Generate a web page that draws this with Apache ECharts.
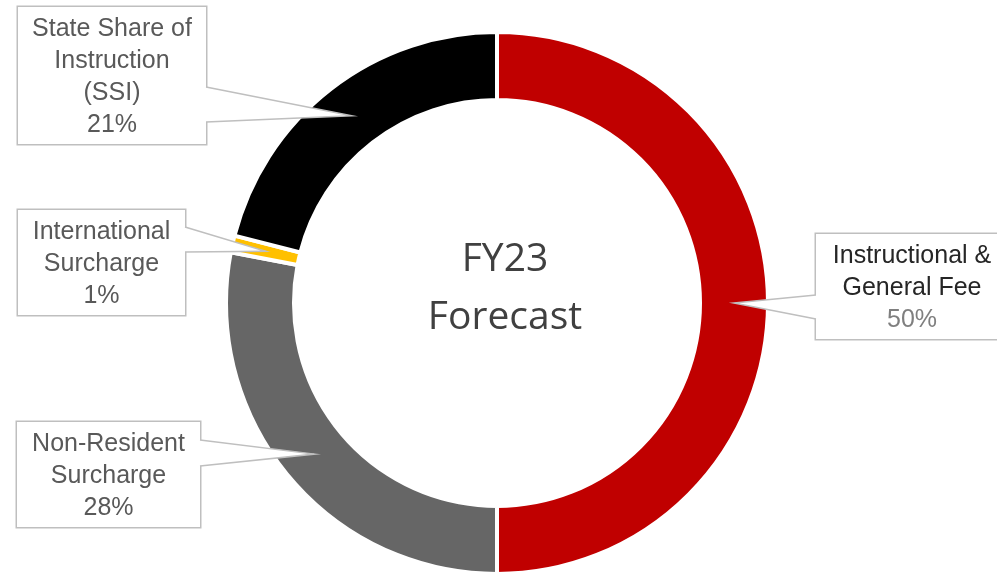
<!DOCTYPE html>
<html>
<head>
<meta charset="utf-8">
<script src="https://cdn.jsdelivr.net/npm/echarts@6/dist/echarts.min.js"></script>
<style>
  html, body { margin: 0; padding: 0; background: #fff; }
  #chart { width: 997px; height: 573px; }
</style>
</head>
<body>
<div id="chart"></div>
<script>
// ---- data ----
const categories = ['Instructional &\nGeneral Fee', 'Non-Resident\nSurcharge', 'International\nSurcharge', 'State Share of\nInstruction\n(SSI)'];
const values = [50, 28, 1, 21];
const colors = ['#C00000', '#666666', '#FFC000', '#000000'];
const centerLines = ['FY23', 'Forecast'];

// ---- layout (callout boxes) ----
const boxLeft = [816, 17, 18, 18];
const boxTop = [234, 422, 210, 7];
const boxWidth = [192, 183, 167, 188];
const tailSide = ['left', 'right', 'right', 'right'];
const tailBase = [[295, 319], [440, 466], [227, 252], [87, 122]];
const nameColor = ['#262626', '#595959', '#595959', '#595959'];
const pctColor = ['#7F7F7F', '#595959', '#595959', '#595959'];

const FONT = 'Liberation Sans';
const FS = 25;
const LH = 32;
const BORDER = '#BFBFBF';

const chart = echarts.init(document.getElementById('chart'), null, { renderer: 'canvas' });

const data = categories.map((name, i) => ({
  name: name,
  value: values[i],
  itemStyle: { color: colors[i] },
  label: {
    width: boxWidth[i],
    rich: {
      n: { fontFamily: FONT, fontSize: FS, lineHeight: LH, color: nameColor[i], align: 'center' },
      p: { fontFamily: FONT, fontSize: FS, lineHeight: LH, color: pctColor[i], align: 'center' }
    }
  }
}));

chart.setOption({
  animation: false,
  backgroundColor: '#ffffff',
  series: [{
    type: 'pie',
    center: [497, 303],
    radius: [203, 271],
    startAngle: 90,
    clockwise: true,
    avoidLabelOverlap: false,
    percentPrecision: 0,
    itemStyle: { borderColor: '#ffffff', borderWidth: 4 },
    emphasis: { disabled: true },
    label: {
      show: true,
      position: 'outside',
      formatter: p => '{n|' + p.name + '}\n{p|' + p.percent + '%}',
      backgroundColor: '#ffffff',
      borderColor: BORDER,
      borderWidth: 1.5,
      padding: [6, 0, 3, 0],
      lineHeight: LH,
      fontFamily: FONT,
      fontSize: FS,
      align: 'center'
    },
    labelLine: { show: false },
    labelLayout: params => {
      const i = params.dataIndex;
      return {
        x: boxLeft[i] + boxWidth[i] / 2,
        y: boxTop[i],
        align: 'center',
        verticalAlign: 'top'
      };
    },
    data: data
  }]
});

// callout tails built from the pie's own layout
const seriesData = chart.getModel().getSeriesByIndex(0).getData();
const graphics = [];
categories.forEach((c, i) => {
  const L = seriesData.getItemLayout(i);
  const mid = (L.startAngle + L.endAngle) / 2;
  const rm = (L.r0 + L.r) / 2;
  const tip = [L.cx + rm * Math.cos(mid), L.cy + rm * Math.sin(mid)];
  const ex = tailSide[i] === 'right' ? boxLeft[i] + boxWidth[i] : boxLeft[i];
  const inward = tailSide[i] === 'right' ? -2 : 2;
  const y1 = tailBase[i][0], y2 = tailBase[i][1];
  graphics.push({
    type: 'polygon', z: 100,
    shape: { points: [[ex + inward, y1], [ex, y1], tip, [ex, y2], [ex + inward, y2]] },
    style: { fill: '#ffffff', stroke: null }
  });
  graphics.push({
    type: 'polyline', z: 101,
    shape: { points: [[ex, y1], tip, [ex, y2]] },
    style: { stroke: BORDER, lineWidth: 1.5, fill: null }
  });
});
graphics.push({
  type: 'text', z: 102, x: 505, y: 260,
  style: { text: centerLines[0], fontFamily: 'Open Sans', fontSize: 39, fill: '#404040', align: 'center', verticalAlign: 'middle' }
});
graphics.push({
  type: 'text', z: 102, x: 505, y: 318,
  style: { text: centerLines[1], fontFamily: 'Open Sans', fontSize: 39, fill: '#404040', align: 'center', verticalAlign: 'middle' }
});
chart.setOption({ graphic: graphics });
</script>
</body>
</html>
